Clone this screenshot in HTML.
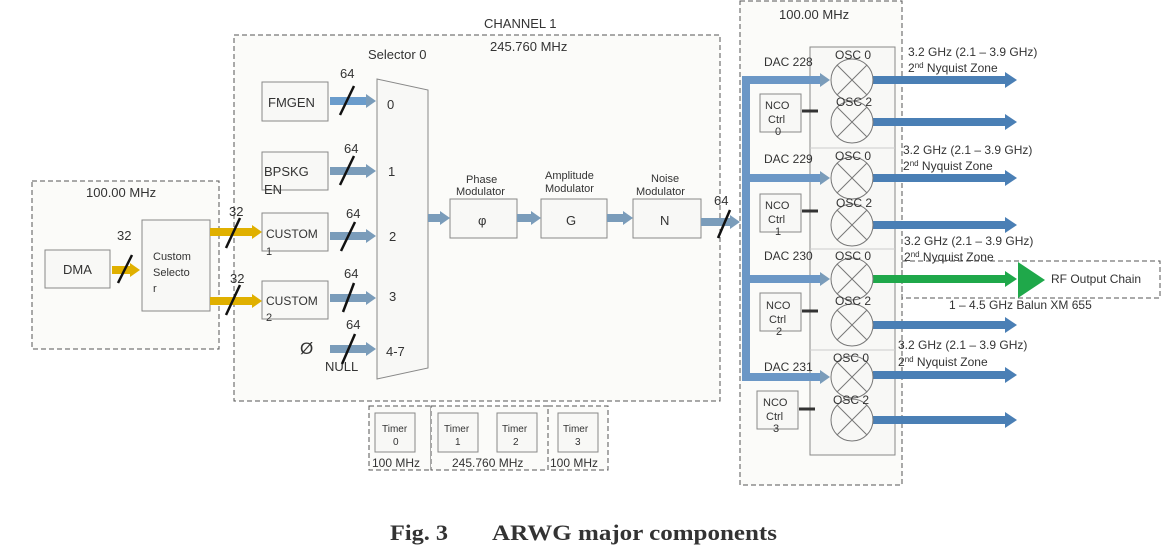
<!DOCTYPE html>
<html><head><meta charset="utf-8"><style>
body{margin:0;background:#fff;}
svg text{font-family:"Liberation Sans",Arial,sans-serif;fill:#333;}
</style></head><body>
<svg width="1170" height="553" viewBox="0 0 1170 553" xmlns="http://www.w3.org/2000/svg">
<defs>
<marker id="ab" markerWidth="12" markerHeight="16" refX="0" refY="8" orient="auto" markerUnits="userSpaceOnUse"><path d="M0,0 L12,8 L0,16 Z" fill="#4a7fb5"/></marker>
<marker id="ag" markerWidth="10" markerHeight="14" refX="0" refY="7" orient="auto" markerUnits="userSpaceOnUse"><path d="M0,0 L10,7 L0,14 Z" fill="#7a9cba"/></marker>
<marker id="ay" markerWidth="10" markerHeight="14" refX="0" refY="7" orient="auto" markerUnits="userSpaceOnUse"><path d="M0,0 L10,7 L0,14 Z" fill="#e0b000"/></marker>
<marker id="agr" markerWidth="12" markerHeight="16" refX="0" refY="8" orient="auto" markerUnits="userSpaceOnUse"><path d="M0,0 L12,8 L0,16 Z" fill="#1fa84a"/></marker>
</defs>
<g fill="#fbfbf9" stroke="#555" stroke-dasharray="5,3" stroke-width="1">
<rect x="32" y="181" width="187" height="168"/>
<rect x="234" y="35" width="486" height="366"/>
<rect x="740" y="1" width="162" height="484"/>
<rect x="902" y="261" width="258" height="37" fill="none"/>
<rect x="369" y="406" width="62" height="64"/>
<rect x="431" y="406" width="117" height="64"/>
<rect x="548" y="406" width="60" height="64"/>
</g>
<text x="86" y="197" font-size="13">100.00 MHz</text>
<text x="484" y="28" font-size="13">CHANNEL 1</text>
<text x="490" y="51" font-size="13">245.760 MHz</text>
<text x="779" y="19" font-size="13">100.00 MHz</text>
<g fill="#f8f8f6" stroke="#888">
<rect x="45" y="250" width="65" height="38"/>
<rect x="142" y="220" width="68" height="91"/>
<rect x="262" y="82" width="66" height="39"/>
<rect x="262" y="152" width="66" height="38"/>
<rect x="262" y="213" width="66" height="38"/>
<rect x="262" y="281" width="66" height="38"/>
<path d="M377,79 L428,90 L428,368 L377,379 Z"/>
<rect x="450" y="199" width="67" height="39"/>
<rect x="541" y="199" width="66" height="39"/>
<rect x="633" y="199" width="68" height="39"/>
<rect x="810" y="47" width="85" height="408"/>
<rect x="760" y="94" width="41" height="38"/>
<rect x="760" y="194" width="41" height="38"/>
<rect x="760" y="293" width="41" height="38"/>
<rect x="757" y="391" width="41" height="38"/>
<rect x="375" y="413" width="40" height="39"/>
<rect x="438" y="413" width="40" height="39"/>
<rect x="497" y="413" width="40" height="39"/>
<rect x="558" y="413" width="40" height="39"/>
</g>
<g font-size="13">
<text x="63" y="274">DMA</text>
<text x="153" y="260" font-size="11">Custom</text><text x="153" y="276" font-size="11">Selecto</text><text x="153" y="292" font-size="11">r</text>
<text x="268" y="107">FMGEN</text>
<text x="264" y="176">BPSKG</text><text x="264" y="194">EN</text>
<text x="266" y="238" font-size="12">CUSTOM</text><text x="266" y="255" font-size="11">1</text>
<text x="266" y="305" font-size="12">CUSTOM</text><text x="266" y="321" font-size="11">2</text>
<text x="387" y="109">0</text><text x="388" y="176">1</text><text x="389" y="241">2</text><text x="389" y="301">3</text><text x="386" y="356">4-7</text>
<text x="368" y="59">Selector 0</text>
<text x="300" y="354" font-size="17">Ø</text><text x="325" y="371">NULL</text>
<text x="478" y="225">φ</text><text x="566" y="225">G</text><text x="660" y="225">N</text>
<text x="466" y="183" font-size="11">Phase</text><text x="456" y="195" font-size="11">Modulator</text>
<text x="545" y="179" font-size="11">Amplitude</text><text x="545" y="192" font-size="11">Modulator</text>
<text x="651" y="182" font-size="11">Noise</text><text x="636" y="195" font-size="11">Modulator</text>
<text x="117" y="240">32</text><text x="229" y="216">32</text><text x="230" y="283">32</text>
<text x="340" y="78">64</text><text x="344" y="153">64</text><text x="346" y="218">64</text><text x="344" y="278">64</text><text x="346" y="329">64</text>
<text x="714" y="205">64</text>
</g>
<g fill="none" stroke-width="8">
<path d="M112,270 H130" stroke="#e0b000" marker-end="url(#ay)"/>
<path d="M210,232 H252" stroke="#e0b000" marker-end="url(#ay)"/>
<path d="M210,301 H252" stroke="#e0b000" marker-end="url(#ay)"/>
<path d="M330,101 H366" stroke="#6a9ccc" marker-end="url(#ag)"/>
<path d="M330,171 H366" stroke="#7a9cba" marker-end="url(#ag)"/>
<path d="M330,236 H366" stroke="#7a9cba" marker-end="url(#ag)"/>
<path d="M330,298 H366" stroke="#7a9cba" marker-end="url(#ag)"/>
<path d="M330,349 H366" stroke="#7a9cba" marker-end="url(#ag)"/>
<path d="M428,218 H440" stroke="#7a9cba" marker-end="url(#ag)"/>
<path d="M517,218 H531" stroke="#7a9cba" marker-end="url(#ag)"/>
<path d="M607,218 H623" stroke="#7a9cba" marker-end="url(#ag)"/>
<path d="M701,222 H730" stroke="#7a9cba" marker-end="url(#ag)"/>
<path d="M746,80 V378" stroke="#6b97c6"/>
<path d="M742,80 H820" stroke="#6b97c6" marker-end="url(#ag)"/>
<path d="M742,178 H820" stroke="#6b97c6" marker-end="url(#ag)"/>
<path d="M742,279 H820" stroke="#6b97c6" marker-end="url(#ag)"/>
<path d="M742,377 H820" stroke="#6b97c6" marker-end="url(#ag)"/>
<path d="M873,80 H1005" stroke="#4a7fb5" marker-end="url(#ab)"/>
<path d="M873,122 H1005" stroke="#4a7fb5" marker-end="url(#ab)"/>
<path d="M873,178 H1005" stroke="#4a7fb5" marker-end="url(#ab)"/>
<path d="M873,225 H1005" stroke="#4a7fb5" marker-end="url(#ab)"/>
<path d="M873,325 H1005" stroke="#4a7fb5" marker-end="url(#ab)"/>
<path d="M873,375 H1005" stroke="#4a7fb5" marker-end="url(#ab)"/>
<path d="M873,420 H1005" stroke="#4a7fb5" marker-end="url(#ab)"/>
<path d="M873,279 H1005" stroke="#1fa84a" marker-end="url(#agr)"/>
</g>
<path d="M1018,262 L1045,280 L1018,298 Z" fill="#1fa84a"/>
<g stroke="#333" stroke-width="3">
<path d="M802,111 H818 M802,211 H818 M802,311 H818 M799,409 H815"/>
</g>
<g fill="#f8f8f6" stroke="#777">
<circle cx="852" cy="80" r="21"/><circle cx="852" cy="122" r="21"/>
<circle cx="852" cy="178" r="21"/><circle cx="852" cy="225" r="21"/>
<circle cx="852" cy="279" r="21"/><circle cx="852" cy="325" r="21"/>
<circle cx="852" cy="377" r="21"/><circle cx="852" cy="420" r="21"/>
</g>
<g stroke="#777">
<path d="M837,65 L867,95 M867,65 L837,95 M837,107 L867,137 M867,107 L837,137 M837,163 L867,193 M867,163 L837,193 M837,210 L867,240 M867,210 L837,240 M837,264 L867,294 M867,264 L837,294 M837,310 L867,340 M867,310 L837,340 M837,362 L867,392 M867,362 L837,392 M837,405 L867,435 M867,405 L837,435"/>
<path d="M810,148 H895 M810,249 H895 M810,350 H895" stroke="#ccc"/>
</g>
<g font-size="11" fill="#444">
<text x="764" y="66" font-size="12">DAC 228</text><text x="764" y="163" font-size="12">DAC 229</text>
<text x="764" y="260" font-size="12">DAC 230</text><text x="764" y="371" font-size="12">DAC 231</text>
<text x="835" y="59" font-size="12">OSC 0</text><text x="836" y="106" font-size="12">OSC 2</text>
<text x="835" y="160" font-size="12">OSC 0</text><text x="836" y="207" font-size="12">OSC 2</text>
<text x="835" y="260" font-size="12">OSC 0</text><text x="835" y="305" font-size="12">OSC 2</text>
<text x="833" y="362" font-size="12">OSC 0</text><text x="833" y="404" font-size="12">OSC 2</text>
<text x="765" y="109">NCO</text><text x="768" y="123">Ctrl</text><text x="775" y="135">0</text>
<text x="765" y="209">NCO</text><text x="768" y="223">Ctrl</text><text x="775" y="235">1</text>
<text x="766" y="309">NCO</text><text x="769" y="323">Ctrl</text><text x="776" y="335">2</text>
<text x="763" y="406">NCO</text><text x="766" y="420">Ctrl</text><text x="773" y="432">3</text>
<text x="382" y="432" font-size="10">Timer</text><text x="393" y="445" font-size="10">0</text>
<text x="444" y="432" font-size="10">Timer</text><text x="455" y="445" font-size="10">1</text>
<text x="502" y="432" font-size="10">Timer</text><text x="513" y="445" font-size="10">2</text>
<text x="563" y="432" font-size="10">Timer</text><text x="575" y="445" font-size="10">3</text>
<text x="372" y="467" font-size="12" fill="#222">100 MHz</text>
<text x="452" y="467" font-size="12" fill="#222">245.760 MHz</text>
<text x="550" y="467" font-size="12" fill="#222">100 MHz</text>
</g>
<g font-size="12" fill="#222">
<text x="908" y="56">3.2 GHz (2.1 – 3.9 GHz)</text><text x="908" y="72">2<tspan font-size="8" dy="-4">nd</tspan><tspan dy="4"> Nyquist Zone</tspan></text>
<text x="903" y="154">3.2 GHz (2.1 – 3.9 GHz)</text><text x="903" y="170">2<tspan font-size="8" dy="-4">nd</tspan><tspan dy="4"> Nyquist Zone</tspan></text>
<text x="904" y="245">3.2 GHz (2.1 – 3.9 GHz)</text><text x="904" y="261">2<tspan font-size="8" dy="-4">nd</tspan><tspan dy="4"> Nyquist Zone</tspan></text>
<text x="898" y="349">3.2 GHz (2.1 – 3.9 GHz)</text><text x="898" y="366">2<tspan font-size="8" dy="-4">nd</tspan><tspan dy="4"> Nyquist Zone</tspan></text>
<text x="949" y="309">1 – 4.5 GHz Balun XM 655</text>
<text x="1051" y="283" font-size="12">RF Output Chain</text>
</g>
<g stroke="#111" stroke-width="2.5">
<path d="M132,255 L118,283 M240,218 L226,248 M240,285 L226,315 M354,86 L340,115 M354,156 L340,185 M355,222 L341,251 M354,283 L343,312 M355,334 L342,364 M730,210 L718,238"/>
</g>
<text x="390" y="540" font-size="22" font-weight="bold" fill="#111" textLength="58" lengthAdjust="spacingAndGlyphs" style="font-family:'Liberation Serif',serif">Fig. 3</text>
<text x="492" y="540" font-size="22" font-weight="bold" fill="#111" textLength="285" lengthAdjust="spacingAndGlyphs" style="font-family:'Liberation Serif',serif">ARWG major components</text>
</svg>
</body></html>
